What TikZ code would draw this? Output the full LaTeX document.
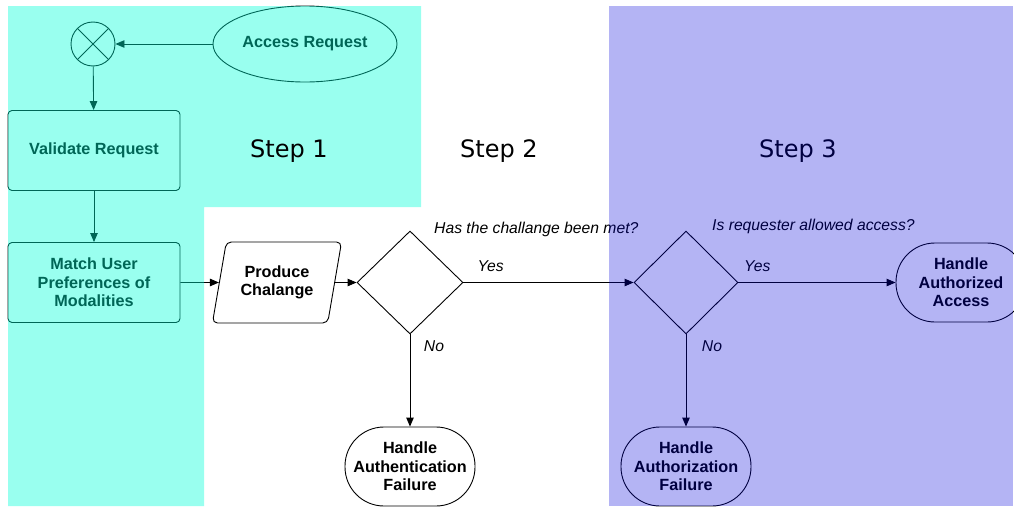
\documentclass[tikz,border=0pt]{standalone}
\usepackage{fontspec}
\setmainfont{Liberation Sans}
\newfontfamily\stepfont{DejaVu Sans}
\usetikzlibrary{shapes.geometric,arrows.meta}
\definecolor{cyanwash}{RGB}{0,255,217}
\definecolor{violetwash}{RGB}{0,0,218}

\begin{document}
\begin{tikzpicture}[x=1pt,y=-1pt,
  flow/.style={draw=black, line width=0.9pt, fill=white,
    font=\bfseries\fontsize{16.2}{18.5}\selectfont, align=center, inner sep=0pt},
  proc/.style={flow, rectangle, rounded corners=4pt, minimum width=172pt, minimum height=80pt},
  term/.style={flow, rectangle, rounded corners=39pt, minimum width=130pt, minimum height=79pt},
  decision/.style={flow, diamond, minimum width=106pt, minimum height=103pt},
  link/.style={draw=black, line width=0.9pt, -{Triangle[length=9pt,width=7.5pt]}},
  note/.style={font=\itshape\fontsize{15.7}{18}\selectfont, inner sep=0pt},
  steplabel/.style={font=\stepfont\fontsize{24}{28}\selectfont, inner sep=0pt},
]
\clip (0,0) rectangle (1014,506);
\fill[white] (0,0) rectangle (1014,506);

% flow nodes
\node[flow, ellipse, minimum width=184pt, minimum height=76pt] (req) at (305,44) {Access Request};
\node[draw=black, line width=0.9pt, fill=white, circle, minimum size=44pt, inner sep=0pt] (merge) at (93,44) {};
\draw[line width=0.9pt] (merge.45) -- (merge.225) (merge.135) -- (merge.315);
\node[proc] (validate) at (94,150.5) {Validate Request};
\node[proc] (match) at (94,282.5) {Match User\\Preferences of\\Modalities};
\node[flow, trapezium, trapezium left angle=73.5, trapezium right angle=106.5,
  trapezium stretches=true, minimum width=130pt, minimum height=81pt,
  rounded corners=5pt] (chal) at (277,282.5) {Produce\\Chalange};
\node[decision] (d1) at (410,282.5) {};
\node[decision, minimum width=104pt] (d2) at (686,282.5) {};
\node[term] (okay) at (961,282.5) {Handle\\Authorized\\Access};
\node[term] (fail1) at (410,466.5) {Handle\\Authentication\\Failure};
\node[term] (fail2) at (686,466.5) {Handle\\Authorization\\Failure};

% questions
\node[note, anchor=west] (q1) at (434,229) {Has the challange been met?};
\node[note, anchor=west] (q2) at (712,226) {Is requester allowed access?};

% connectors
\draw[link] (req) -- (merge);
\draw[link] (merge) -- (validate);
\draw[link] (validate) -- (match);
\draw[link] (match) -- (chal);
\draw[link] (chal) -- (d1);
\draw[link] (d1) -- node[note, pos=0.16, yshift=16pt] (y1) {Yes} (d2);
\draw[link] (d2) -- node[note, pos=0.12, yshift=16pt] (y2) {Yes} (okay);
\draw[link] (d1) -- node[note, pos=0.13, xshift=24pt] (n1) {No} (fail1);
\draw[link] (d2) -- node[note, pos=0.13, xshift=26pt] (n2) {No} (fail2);

\node[steplabel] (s3) at (798,151) {Step 3};

% translucent swim-lane washes
\fill[cyanwash, opacity=0.4] (8,6) -- (421,6) -- (421,207) -- (204,207) -- (204,506) -- (8,506) -- cycle;
\fill[violetwash, opacity=0.294] (609,6) rectangle (1013,506);

\node[steplabel] (s1) at (289,151) {Step 1};
\node[steplabel] (s2) at (499,151) {Step 2};
\end{tikzpicture}
\end{document}
